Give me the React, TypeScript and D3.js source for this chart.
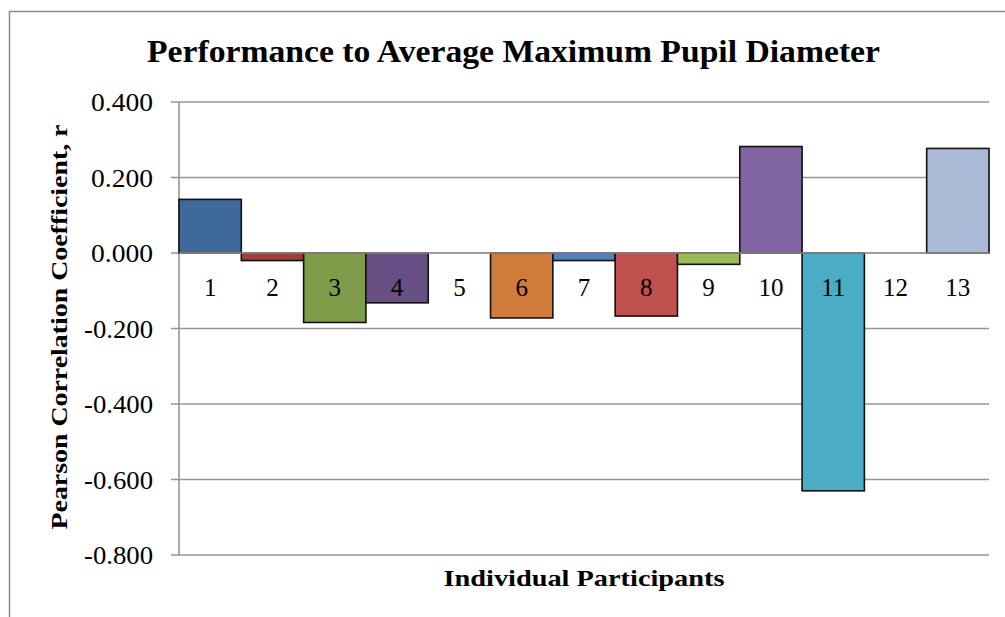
import * as d3 from "d3";

const participants = ["1", "2", "3", "4", "5", "6", "7", "8", "9", "10", "11", "12", "13"];
const coefficients = [0.142, -0.02, -0.184, -0.132, 0, -0.172, -0.02, -0.167, -0.03, 0.282, -0.63, 0, 0.277];
const barColors = [
  "#40699b", "#9d3e3b", "#7e9b49", "#674f84", "#3891a7", "#cf7b39", "#4f81bd",
  "#c0504d", "#9bbb59", "#8064a2", "#4bacc6", "#f79646", "#a9b9d6",
];
const yTicks = [0.4, 0.2, 0, -0.2, -0.4, -0.6, -0.8];

const chartTitle = "Performance to Average Maximum Pupil Diameter";
const yTitle = "Pearson Correlation Coefficient, r";
const xTitle = "Individual Participants";

const width = 1005;
const height = 617;
const margin = { top: 102, right: 16, bottom: 62, left: 179 };
const font = "'Liberation Serif', 'DejaVu Serif', serif";

export default function App() {
  const boundsWidth = width - margin.left - margin.right;
  const boundsHeight = height - margin.top - margin.bottom;

  const xScale = d3.scaleBand().domain(participants).range([0, boundsWidth]).padding(0);
  const yScale = d3.scaleLinear().domain([-0.8, 0.4]).range([boundsHeight, 0]);
  // excel style labels use a plain hyphen
  const fmt = (v: number) => d3.format(".3f")(v).replace("\u2212", "-");

  const bars = coefficients.map((v, i) => {
    if (v === 0) return null;
    const x = xScale(participants[i]) ?? 0;
    const y0 = yScale(0);
    const y1 = yScale(v);
    return (
      <rect
        key={i}
        x={x}
        y={Math.min(y0, y1)}
        width={xScale.bandwidth()}
        height={Math.abs(y1 - y0)}
        fill={barColors[i]}
        stroke="#111"
        strokeWidth={1.6}
      />
    );
  });

  return (
    <svg width={width} height={height} style={{ position: "absolute", left: 0, top: 0, background: "#fff" }}>
      <rect x={0} y={0} width={width} height={height} fill="#fff" />
      <path d={`M9.5,${height} V11.5 H${width}`} fill="none" stroke="#8a8a8a" strokeWidth={1.5} />
      <text
        x={513.5}
        y={62}
        textAnchor="middle"
        fontFamily={font}
        fontWeight="bold"
        fontSize={32}
        textLength={733}
        lengthAdjust="spacingAndGlyphs"
      >
        {chartTitle}
      </text>
      <text
        transform={`translate(67,${327}) rotate(-90)`}
        textAnchor="middle"
        fontFamily={font}
        fontWeight="bold"
        fontSize={24}
        textLength={405}
        lengthAdjust="spacingAndGlyphs"
      >
        {yTitle}
      </text>
      <g transform={`translate(${margin.left},${margin.top})`}>
        {yTicks.map((t) => (
          <g key={t}>
            <line x1={-8} x2={boundsWidth} y1={yScale(t)} y2={yScale(t)} stroke="#969696" strokeWidth={1.6} />
            <text
              x={-26}
              y={yScale(t)}
              dy="0.36em"
              textAnchor="end"
              fontFamily={font}
              fontSize={25}
              textLength={t < 0 ? 69 : 62}
              lengthAdjust="spacingAndGlyphs"
            >
              {fmt(t)}
            </text>
          </g>
        ))}
        <line x1={0} x2={0} y1={0} y2={boundsHeight} stroke="#969696" strokeWidth={1.6} />
        {bars}
        <line x1={0} x2={boundsWidth} y1={yScale(0)} y2={yScale(0)} stroke="#969696" strokeWidth={1.6} />
        {participants.map((p) => (
          <text
            key={p}
            x={(xScale(p) ?? 0) + xScale.bandwidth() / 2}
            y={yScale(0) + 43}
            textAnchor="middle"
            fontFamily={font}
            fontSize={25}
          >
            {p}
          </text>
        ))}
        <text
          x={boundsWidth / 2}
          y={boundsHeight + 31}
          textAnchor="middle"
          fontFamily={font}
          fontWeight="bold"
          fontSize={24}
          textLength={281}
          lengthAdjust="spacingAndGlyphs"
        >
          {xTitle}
        </text>
      </g>
    </svg>
  );
}
